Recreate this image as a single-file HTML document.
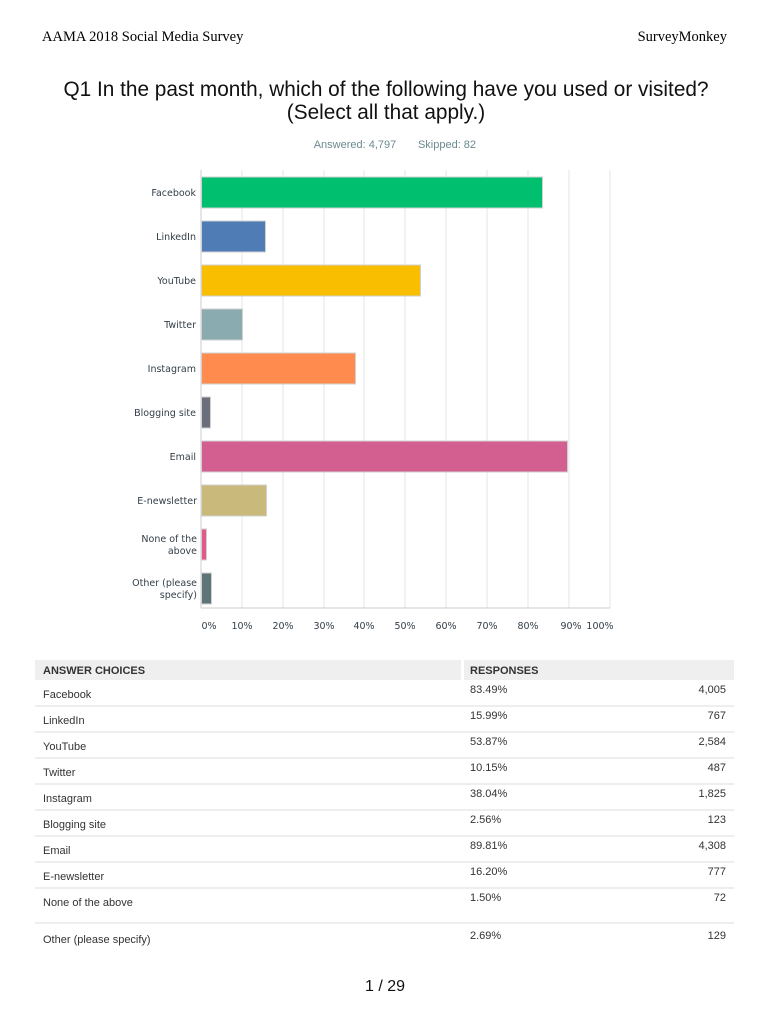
<!DOCTYPE html>
<html><head><meta charset="utf-8"><style>
html,body{margin:0;padding:0;background:#fff;}
svg{display:block;}
.lab{font-family:"DejaVu Sans",sans-serif;font-size:9.5px;fill:#333e48;}
.tk{font-family:"DejaVu Sans",sans-serif;font-size:9.5px;fill:#333e48;}
.t{font-family:"Liberation Sans",sans-serif;font-size:11px;fill:#333;}
</style></head><body>
<svg width="770" height="1024" viewBox="0 0 770 1024" xmlns="http://www.w3.org/2000/svg">
<text x="42" y="41" font-family="Liberation Serif,serif" font-size="14.5" fill="#000">AAMA 2018 Social Media Survey</text>
<text x="727" y="41" text-anchor="end" font-family="Liberation Serif,serif" font-size="14.5" fill="#000">SurveyMonkey</text>
<text x="386" y="96" text-anchor="middle" font-family="Liberation Sans,sans-serif" font-size="20.8" fill="#111">Q1 In the past month, which of the following have you used or visited?</text>
<text x="386" y="119" text-anchor="middle" font-family="Liberation Sans,sans-serif" font-size="20.8" fill="#111">(Select all that apply.)</text>
<text x="355" y="148" text-anchor="middle" font-family="Liberation Sans,sans-serif" font-size="11" fill="#6b8a8f">Answered: 4,797</text>
<text x="447" y="148" text-anchor="middle" font-family="Liberation Sans,sans-serif" font-size="11" fill="#6b8a8f">Skipped: 82</text>
<g stroke="#e6e6e6" stroke-width="1">
<line x1="242" y1="170" x2="242" y2="608"/><line x1="283" y1="170" x2="283" y2="608"/><line x1="324" y1="170" x2="324" y2="608"/><line x1="364" y1="170" x2="364" y2="608"/><line x1="405" y1="170" x2="405" y2="608"/><line x1="446" y1="170" x2="446" y2="608"/><line x1="487" y1="170" x2="487" y2="608"/><line x1="528" y1="170" x2="528" y2="608"/><line x1="569" y1="170" x2="569" y2="608"/><line x1="610" y1="170" x2="610" y2="608"/>
</g>
<line x1="201" y1="170" x2="201" y2="608" stroke="#ccc"/>
<line x1="201" y1="608" x2="610" y2="608" stroke="#ccc"/>
<g stroke="#d0d0d0" stroke-width="1">
<rect x="201.5" y="177" width="341" height="31" fill="#00bf6f"/>
<rect x="201.5" y="221" width="64" height="31" fill="#507cb6"/>
<rect x="201.5" y="265" width="219" height="31" fill="#f9be00"/>
<rect x="201.5" y="309" width="41" height="31" fill="#8aacb0"/>
<rect x="201.5" y="353" width="154" height="31" fill="#ff8b4f"/>
<rect x="201.5" y="397" width="9" height="31" fill="#6b6e7c"/>
<rect x="201.5" y="441" width="366" height="31" fill="#d25f90"/>
<rect x="201.5" y="485" width="65" height="31" fill="#c9b97b"/>
<rect x="201.5" y="529" width="5" height="31" fill="#e05a8a"/>
<rect x="201.5" y="573" width="10" height="31" fill="#5f7479"/>
</g>
<g class="lab" text-anchor="end">
<text x="196" y="196">Facebook</text><text x="196" y="240">LinkedIn</text><text x="196" y="284">YouTube</text><text x="196" y="328">Twitter</text><text x="196" y="372">Instagram</text><text x="196" y="416">Blogging site</text><text x="196" y="460">Email</text><text x="197" y="504">E-newsletter</text><text x="197" y="542">None of the</text><text x="197" y="554">above</text><text x="197" y="586">Other (please</text><text x="197" y="598">specify)</text>
</g>
<g class="tk" text-anchor="middle">
<text x="209" y="629">0%</text><text x="242" y="629">10%</text><text x="283" y="629">20%</text><text x="324" y="629">30%</text><text x="364" y="629">40%</text><text x="405" y="629">50%</text><text x="446" y="629">60%</text><text x="487" y="629">70%</text><text x="528" y="629">80%</text><text x="571" y="629">90%</text><text x="600" y="629">100%</text>
</g>
<rect x="35" y="660" width="426" height="20" fill="#efefef"/>
<rect x="464" y="660" width="270" height="20" fill="#efefef"/>
<text x="43" y="674" font-family="Liberation Sans,sans-serif" font-size="11" font-weight="bold" fill="#333">ANSWER CHOICES</text>
<text x="470" y="674" font-family="Liberation Sans,sans-serif" font-size="11" font-weight="bold" fill="#333">RESPONSES</text>
<g stroke="#dcdcdc"><line x1="35" y1="706" x2="734" y2="706"/><line x1="35" y1="732" x2="734" y2="732"/><line x1="35" y1="758" x2="734" y2="758"/><line x1="35" y1="784" x2="734" y2="784"/><line x1="35" y1="810" x2="734" y2="810"/><line x1="35" y1="836" x2="734" y2="836"/><line x1="35" y1="862" x2="734" y2="862"/><line x1="35" y1="888" x2="734" y2="888"/><line x1="35" y1="923" x2="734" y2="923"/></g>
<g class="t">
<text x="43" y="698">Facebook</text><text x="470" y="693">83.49%</text><text x="726" y="693" text-anchor="end">4,005</text>
<text x="43" y="724">LinkedIn</text><text x="470" y="719">15.99%</text><text x="726" y="719" text-anchor="end">767</text>
<text x="43" y="750">YouTube</text><text x="470" y="745">53.87%</text><text x="726" y="745" text-anchor="end">2,584</text>
<text x="43" y="776">Twitter</text><text x="470" y="771">10.15%</text><text x="726" y="771" text-anchor="end">487</text>
<text x="43" y="802">Instagram</text><text x="470" y="797">38.04%</text><text x="726" y="797" text-anchor="end">1,825</text>
<text x="43" y="828">Blogging site</text><text x="470" y="823">2.56%</text><text x="726" y="823" text-anchor="end">123</text>
<text x="43" y="854">Email</text><text x="470" y="849">89.81%</text><text x="726" y="849" text-anchor="end">4,308</text>
<text x="43" y="880">E-newsletter</text><text x="470" y="875">16.20%</text><text x="726" y="875" text-anchor="end">777</text>
<text x="43" y="906">None of the above</text><text x="470" y="901">1.50%</text><text x="726" y="901" text-anchor="end">72</text>
<text x="43" y="943">Other (please specify)</text><text x="470" y="939">2.69%</text><text x="726" y="939" text-anchor="end">129</text>
</g>
<text x="385" y="991" text-anchor="middle" font-family="Liberation Sans,sans-serif" font-size="16" fill="#111">1 / 29</text>
</svg>
</body></html>
